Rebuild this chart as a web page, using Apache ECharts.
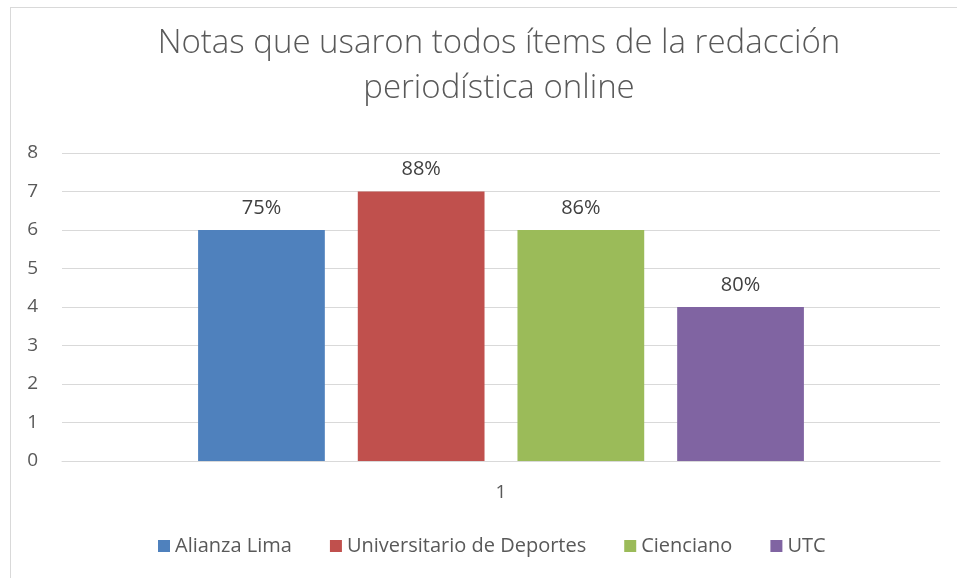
<!DOCTYPE html>
<html>
<head>
<meta charset="utf-8">
<script src="https://cdn.jsdelivr.net/npm/echarts@6/dist/echarts.min.js"></script>
<style>
  html, body { margin: 0; padding: 0; background: #fff; }
  #frame { position: absolute; left: 10px; top: 7px; width: 960px; height: 600px; border: 1px solid #d9d9d9; box-sizing: border-box; }
  #chart { position: absolute; left: 0; top: 0; width: 957px; height: 578px; }
</style>
</head>
<body>
<div id="frame"></div>
<div id="chart"></div>
<script>
const categories = ['1']
const seriesNames = ['Alianza Lima', 'Universitario de Deportes', 'Cienciano', 'UTC']
const seriesValues = [6, 7, 6, 4]
const valueLabels = ['75%', '88%', '86%', '80%']
const seriesColors = ['#4f81bd', '#c0504d', '#9bbb59', '#8064a2']

const textColor = '#595959'
const fontFamily = '"Open Sans", "Liberation Sans", sans-serif'

const chart = echarts.init(document.getElementById('chart'))

chart.setOption({
  animation: false,
  textStyle: { fontFamily: fontFamily },
  title: {
    text: 'Notas que usaron todos ítems de la redacción\nperiodística online',
    left: 494,
    textAlign: 'center',
    top: 16,
    textStyle: {
      fontFamily: fontFamily,
      fontWeight: 300,
      fontSize: 33,
      lineHeight: 45,
      color: textColor
    }
  },
  legend: {
    bottom: 17,
    left: 153,
    icon: 'rect',
    itemWidth: 12,
    itemHeight: 12,
    itemGap: 38,
    textStyle: { fontSize: 20, color: textColor, fontFamily: fontFamily },
    data: seriesNames
  },
  grid: {
    left: 62,
    right: 17,
    top: 153,
    bottom: 117,
    containLabel: false
  },
  xAxis: {
    type: 'category',
    data: categories,
    axisTick: { show: false },
    axisLine: { lineStyle: { color: '#d9d9d9', width: 1 } },
    axisLabel: { fontSize: 19, color: textColor, margin: 22 }
  },
  yAxis: {
    type: 'value',
    min: 0,
    max: 8,
    interval: 1,
    axisLine: { show: false },
    axisTick: { show: false },
    axisLabel: { fontSize: 19, color: textColor, margin: 24 },
    splitLine: { lineStyle: { color: '#d9d9d9', width: 1 } }
  },
  series: seriesNames.map((name, i) => ({
    name: name,
    type: 'bar',
    data: [seriesValues[i]],
    barGap: '26%',
    barCategoryGap: '31%',
    itemStyle: { color: seriesColors[i] },
    label: {
      show: true,
      position: 'top',
      distance: 12,
      formatter: () => valueLabels[i],
      fontSize: 20,
      color: '#404040',
      fontFamily: fontFamily
    }
  }))
})
</script>
</body>
</html>
